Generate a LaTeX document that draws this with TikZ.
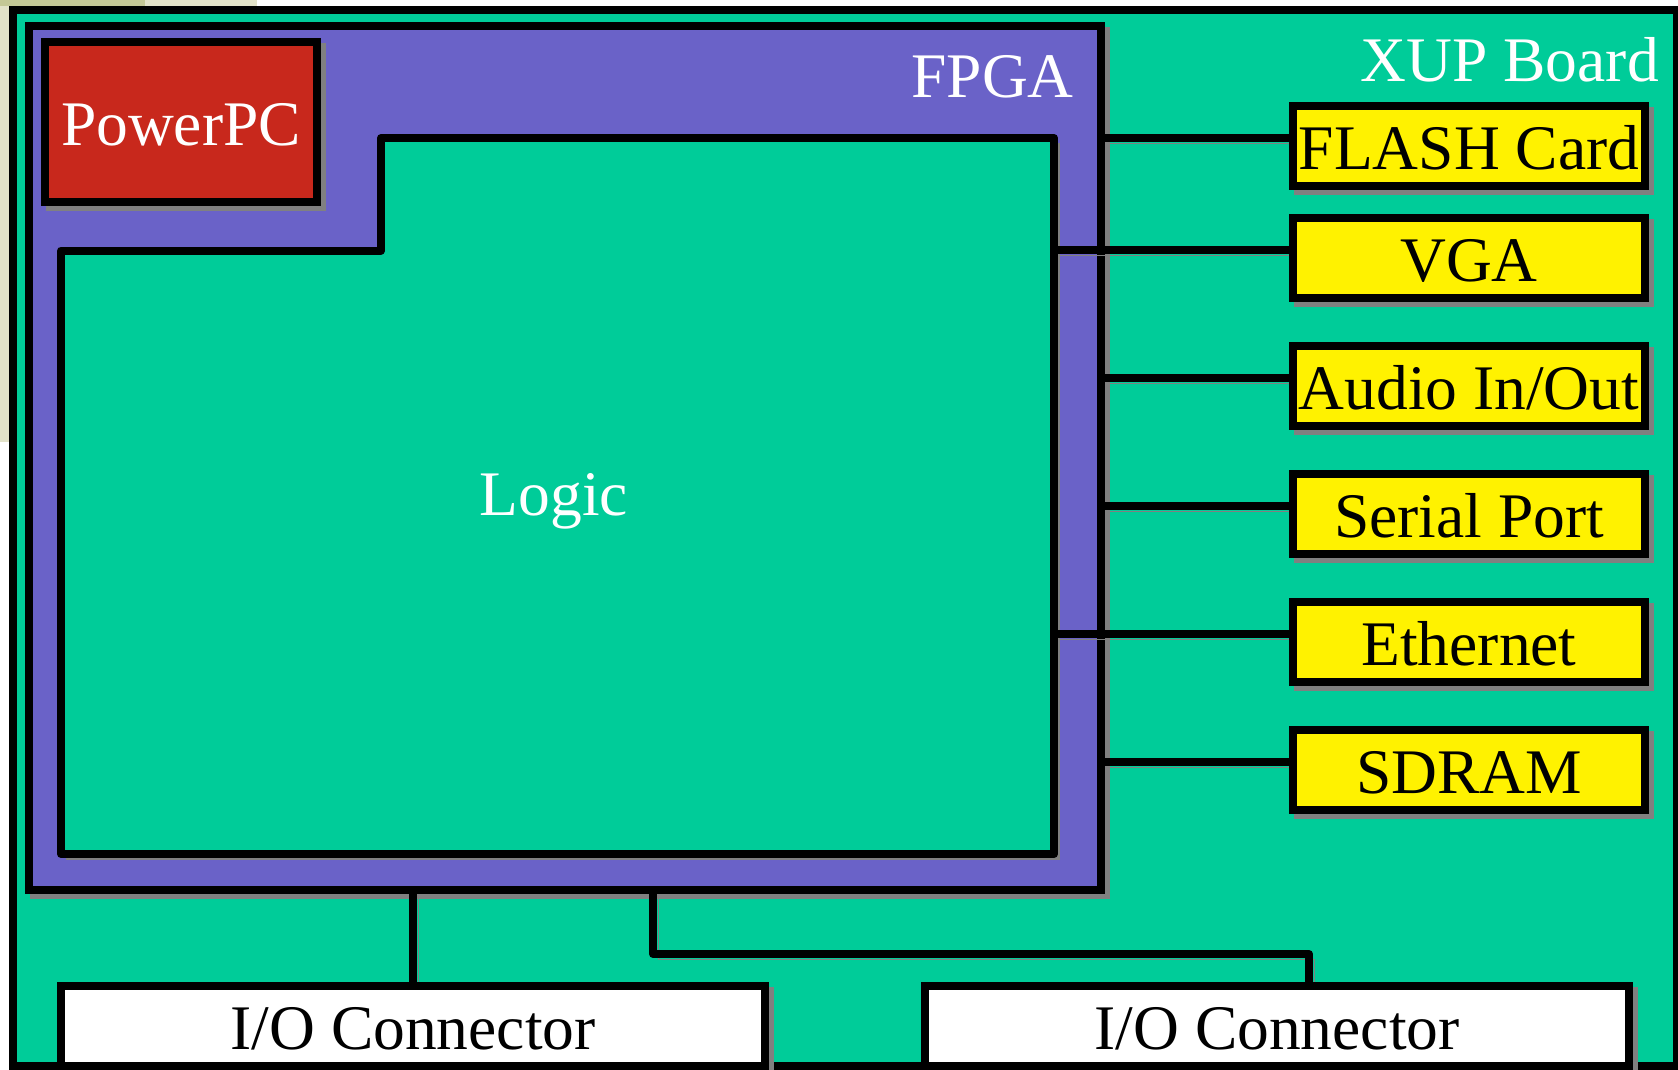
\documentclass[tikz,border=0pt]{standalone}
\usepackage{fontspec}
\setmainfont{Liberation Serif}
\usetikzlibrary{calc}
\definecolor{boardgreen}{RGB}{0,204,153}
\definecolor{fpgablue}{RGB}{106,98,200}
\definecolor{ppcred}{RGB}{200,40,28}
\definecolor{shadowgray}{RGB}{128,128,128}
\definecolor{bgbeige}{RGB}{226,226,200}
\definecolor{bgolive}{RGB}{196,200,150}
\pgfdeclarelayer{front}
\pgfsetlayers{main,front}
\begin{document}
\begin{tikzpicture}[x=1pt,y=-1pt,
  txt/.style={font=\fontsize{63.5}{70}\selectfont},
  shd/.style={preaction={draw=shadowgray,fill=shadowgray,transform canvas={xshift=5pt,yshift=-5pt}}},
  lshd/.style={preaction={draw=shadowgray,transform canvas={xshift=5pt,yshift=-5pt}}},
  blk/.style={draw=black,line width=8pt,inner sep=0pt,outer sep=0pt,anchor=north west,txt,text height=47pt,text depth=0pt},
  periph/.style={blk,shd,fill=yellow,minimum width=352pt,minimum height=80pt},
  ioconn/.style={blk,shd,fill=white,minimum width=704pt,minimum height=80pt},
  wire/.style={draw=black,line width=8pt,line join=round,lshd}]

\useasboundingbox (0,0) rectangle (1678,1069);
\clip (0,0) rectangle (1678,1069);
\fill[white] (0,0) rectangle (1678,1069);
\fill[bgbeige] (0,0) rectangle (9,442);
\fill[bgbeige] (0,0) rectangle (257,6);
\fill[bgolive] (0,0) rectangle (145,6);

% board
\node[blk,fill=boardgreen,minimum width=1664.3pt,minimum height=1056pt] (board) at (12.7,10) {};
\node[txt,text=white,anchor=base east,inner sep=0pt] (xup) at (1659,81) {XUP Board};

% FPGA
\node[blk,shd,fill=fpgablue,minimum width=1072pt,minimum height=864pt] (fpga) at (29,26) {};
\node[txt,text=white,anchor=base east,inner sep=0pt] (fpgalabel) at (1074,97) {FPGA};

% PowerPC
\node[blk,shd,fill=ppcred,text=white,minimum width=272pt,minimum height=160pt] (ppc) at (45,42) {PowerPC};

% Logic
\path[draw=black,line width=8pt,line join=round,fill=boardgreen,shd]
  (61,250.5) -- (381,250.5) -- (381,138) -- (1054,138) coordinate (lgE) -- (1054,854) -- (61,854) -- cycle;
\node[txt,text=white,anchor=base,inner sep=0pt] (logic) at (554,515) {Logic};

% peripherals and connectors (front layer)
\begin{pgfonlayer}{front}
\clip (0,0) rectangle (1678,1069);
\node[periph] (flash)  at (1293,106) {FLASH Card};
\node[periph] (vga)    at (1293,218) {VGA};
\node[periph] (audio)  at (1293,346) {Audio In/Out};
\node[periph] (serial) at (1293,474) {Serial Port};
\node[periph] (ether)  at (1293,602) {Ethernet};
\node[periph] (sdram)  at (1293,730) {SDRAM};
\node[ioconn] (io1) at (61,986) {I/O Connector};
\node[ioconn] (io2) at (925,986) {I/O Connector};
\end{pgfonlayer}

% connector tap points
\coordinate (flashin)  at ($(flash.north west)+(0,32)$);
\coordinate (vgain)    at ($(vga.north west)+(0,32)$);
\coordinate (audioin)  at ($(audio.north west)+(0,32)$);
\coordinate (serialin) at ($(serial.north west)+(0,32)$);
\coordinate (etherin)  at ($(ether.north west)+(0,32)$);
\coordinate (sdramin)  at ($(sdram.north west)+(0,32)$);

\draw[wire] (flashin -| fpga.east) -- (flashin);
\draw[wire] (vgain -| lgE) -- (vgain);
\draw[wire] (audioin -| fpga.east) -- (audioin);
\draw[wire] (serialin -| fpga.east) -- (serialin);
\draw[wire] (etherin -| lgE) -- (etherin);
\draw[wire] (sdramin -| fpga.east) -- (sdramin);

\draw[wire] (io1.north |- fpga.south) -- (io1.north);
\coordinate (tap2) at (653,890);
\coordinate (bend2) at (1309,954);
\draw[wire] (tap2) |- (bend2) -- (bend2 |- io2.north);
\end{tikzpicture}
\end{document}
